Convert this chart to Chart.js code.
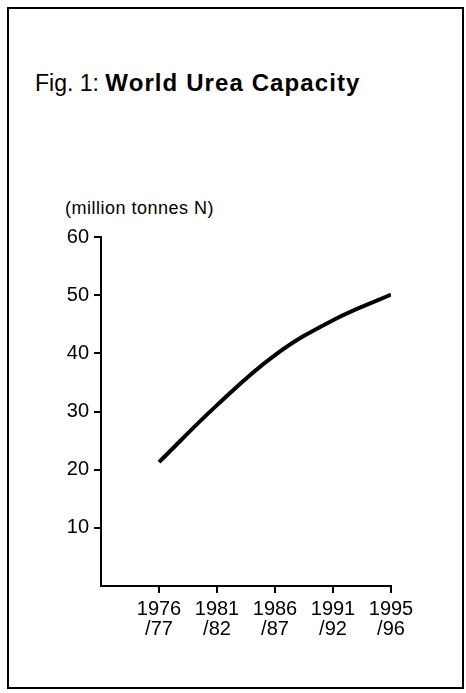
<!DOCTYPE html>
<html>
<head>
<meta charset="utf-8">
<script src="https://cdn.jsdelivr.net/npm/chart.js@4"></script>
<style>
  body { margin: 0; background: #fff; font-family: "Liberation Sans", Arial, sans-serif; }
  #wrap { position: relative; width: 466px; height: 693px; }
  #frame { position: absolute; left: 7px; top: 7px; width: 453px; height: 678px; border: 2px solid #000; }
  #title { position: absolute; left: 35px; top: 71px; font-size: 23px; line-height: 1; color: #000; white-space: nowrap; }
  #title b { font-weight: bold; font-size: 24px; letter-spacing: 1.1px; }
  #ylab { position: absolute; left: 65px; top: 199px; font-size: 18px; letter-spacing: 0.5px; line-height: 1; color: #000; white-space: nowrap; }
  canvas { position: absolute; left: 0; top: 0; }
</style>
</head>
<body>
<div id="wrap">
  <div id="frame"></div>
  <div id="title">Fig. 1: <b>World Urea Capacity</b></div>
  <div id="ylab">(million tonnes N)</div>
  <canvas id="chart" width="466" height="693"></canvas>
</div>
<script>
const years = [['1976', '/77'], ['1981', '/82'], ['1986', '/87'], ['1991', '/92'], ['1995', '/96']];
const capacity = [21.3, 31.1, 39.7, 45.7, 50.1];
const yTicks = [10, 20, 30, 40, 50, 60];

const ctx = document.getElementById('chart').getContext('2d');
new Chart(ctx, {
    type: 'line',
    data: {
        datasets: [{
            data: capacity.map((v, i) => ({ x: i, y: v })),
            borderColor: '#000',
            borderWidth: 4,
            pointRadius: 0,
            tension: 0.4,
            fill: false
        }]
    },
    options: {
        responsive: false,
        animation: false,
        layout: { padding: { left: 0, top: 237, right: 75, bottom: 27 } },
        plugins: { legend: { display: false }, tooltip: { enabled: false } },
        scales: {
            x: {
                type: 'linear',
                min: -1,
                max: 4,
                afterBuildTicks: axis => { axis.ticks = years.map((_, i) => ({ value: i })); },
                afterFit: s => { s.height = 80; },
                border: { display: true, color: '#000', width: 2 },
                grid: { drawOnChartArea: false, drawTicks: true, tickLength: 7, color: '#000', lineWidth: 2 },
                ticks: {
                    callback: v => years[v],
                    color: '#000',
                    padding: 6,
                    maxRotation: 0,
                    font: { family: 'Liberation Sans', size: 20, lineHeight: 1.0 }
                }
            },
            y: {
                min: 0,
                max: 60,
                afterBuildTicks: axis => { axis.ticks = yTicks.map(v => ({ value: v })); },
                afterFit: s => { s.width = 101; },
                border: { display: true, color: '#000', width: 2 },
                grid: { drawOnChartArea: false, drawTicks: true, tickLength: 7, color: '#000', lineWidth: 2 },
                ticks: {
                    color: '#000',
                    padding: 5,
                    font: { family: 'Liberation Sans', size: 20 }
                }
            }
        }
    }
});
</script>
</body>
</html>
